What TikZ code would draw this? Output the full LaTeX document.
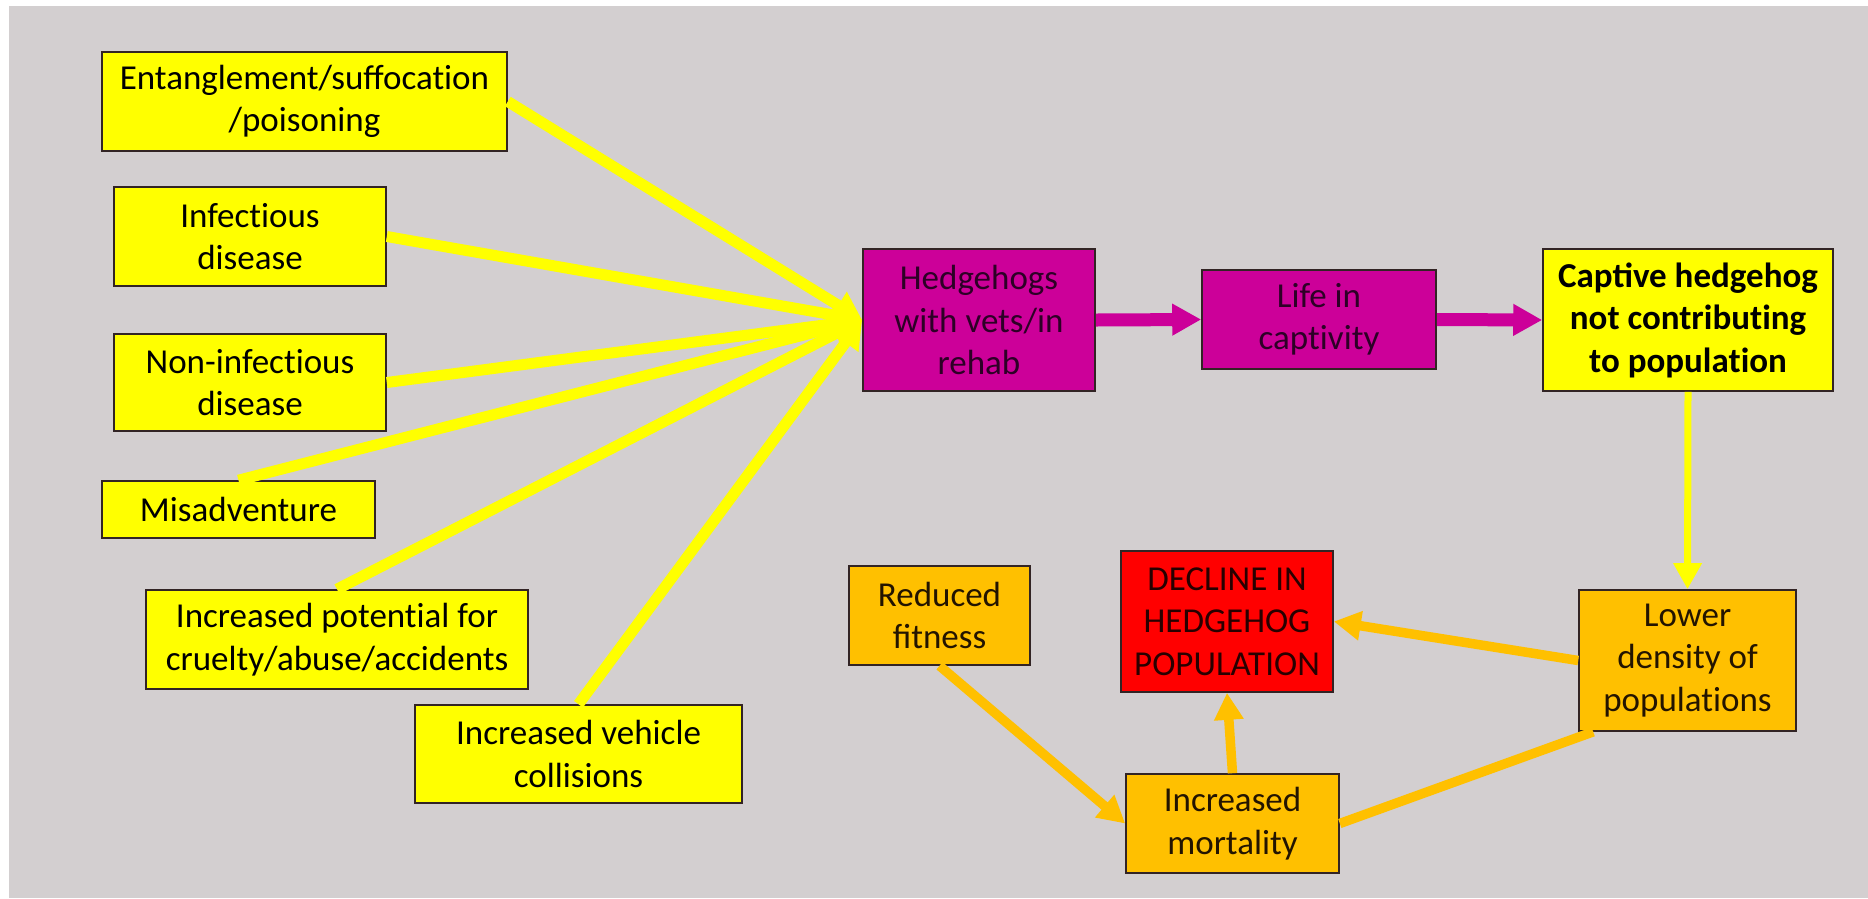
\documentclass[tikz,border=0pt]{standalone}
\usepackage{fontspec}
\setmainfont{Carlito}
\usetikzlibrary{arrows.meta}

% break the t-i ligature of the font
\newcommand{\nolig}{\kern0pt}

\definecolor{bggray}{RGB}{211,207,208}
\definecolor{boxline}{RGB}{50,36,36}
\definecolor{hyellow}{RGB}{255,255,0}
\definecolor{hmagenta}{RGB}{204,0,153}
\definecolor{horange}{RGB}{255,192,0}
\definecolor{hred}{RGB}{255,0,0}
\definecolor{magtext}{RGB}{45,0,38}
\definecolor{redtext}{RGB}{40,0,0}
\definecolor{orgtext}{RGB}{35,20,0}

\tikzset{
  box/.style={draw=boxline, line width=1.6pt, align=center, inner sep=0pt,
              font=\fontsize{35}{42.5}\selectfont},
  ybox/.style={box, fill=hyellow, text=black},
  mbox/.style={box, fill=hmagenta, text=magtext},
  obox/.style={box, fill=horange, text=orgtext},
  rbox/.style={box, fill=hred, text=redtext},
  yarrow/.style={color=hyellow, line width=11pt,
                 -{Triangle[length=28pt,width=30pt]}},
  ythin/.style={color=hyellow, line width=7pt,
                -{Triangle[length=26pt,width=27pt]}},
  marrow/.style={color=hmagenta, line width=13pt,
                 -{Triangle[length=29pt,width=30pt]}},
  oarrow/.style={color=horange, line width=9.5pt,
                 -{Triangle[length=27pt,width=28pt]}},
  oline/.style={color=horange, line width=9.5pt}
}

\begin{document}
\begin{tikzpicture}[x=1pt,y=-1pt]
\useasboundingbox (0,0) rectangle (1868,898);
\fill[white] (0,0) rectangle (1868,898);
\fill[bggray] (9,6) rectangle (1868,898);

% causes feeding into rehab
\node[ybox, minimum width=405pt, minimum height=99pt] (ent) at (304.5,101.5)
  {Entanglement/suffocat\nolig ion\\/poisoning};
\node[ybox, minimum width=272pt, minimum height=99pt] (inf) at (250,236.5)
  {Infect\nolig ious\\disease};
\node[ybox, minimum width=272pt, minimum height=97pt] (noninf) at (250,382.5)
  {Non-infect\nolig ious\\disease};
\node[ybox, minimum width=273pt, minimum height=57pt] (mis) at (238.5,509.5)
  {Misadventure};
\node[ybox, minimum width=382pt, minimum height=99pt] (pot) at (337,639.5)
  {Increased potent\nolig ial for\\cruelty/abuse/accidents};
\node[ybox, minimum width=327pt, minimum height=98pt] (veh) at (578.5,754)
  {Increased vehicle\\collisions};

% captivity chain
\node[mbox, minimum width=232pt, minimum height=142pt] (hh) at (979,320)
  {Hedgehogs\\with vets/in\\rehab};
\node[mbox, minimum width=234pt, minimum height=99pt] (life) at (1319,319.5)
  {Life in\\capt\nolig ivity};
\node[ybox, minimum width=290pt, minimum height=142pt, font=\fontsize{35}{42.5}\selectfont\bfseries] (cap) at (1688,320)
  {Captive hedgehog\\not contribut\nolig ing\\to populat\nolig ion};

% population consequences
\node[obox, minimum width=181pt, minimum height=99pt] (red) at (939.5,615.5)
  {Reduced\\fitness};
\node[rbox, minimum width=212pt, minimum height=141pt] (dec) at (1227,621.5)
  {DECLINE IN\\HEDGEHOG\\POPULATION};
\node[obox, minimum width=217pt, minimum height=141pt] (low) at (1687.5,660.5)
  {Lower\\density of\\populat\nolig ions};
\node[obox, minimum width=213pt, minimum height=99pt] (mort) at (1232.5,823.5)
  {Increased\\mortality};

% connectors
\draw[yarrow] (ent.east) -- (hh.west);
\draw[yarrow] (inf.east) -- (hh.west);
\draw[yarrow] (noninf.east) -- (hh.west);
\draw[yarrow] (mis.north) -- (hh.west);
\draw[yarrow] (pot.north) -- (hh.west);
\draw[yarrow] (veh.north) -- (hh.west);

\draw[marrow] (hh.east) -- (life.west);
\draw[marrow] (life.east) -- (cap.west);

\draw[ythin] (cap.south) -- (low.north);

\draw[oarrow] (low.west) -- (dec.east);
\draw[oarrow] (mort.north) -- (dec.south);
\draw[oarrow] (red.south) -- (mort.west);
\draw[oline] ([xshift=15pt]low.south west) -- (mort.east);
\end{tikzpicture}
\end{document}
